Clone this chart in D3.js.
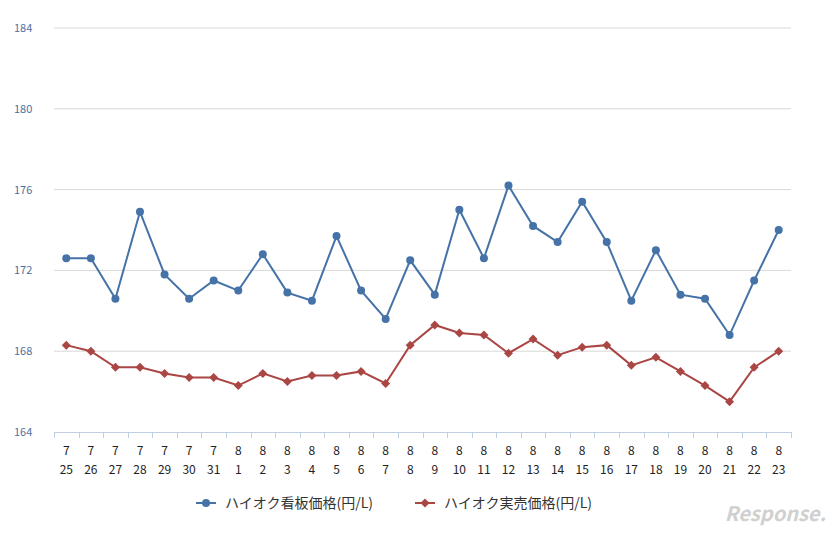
<!DOCTYPE html>
<html><head><meta charset="utf-8">
<script src="https://cdn.jsdelivr.net/npm/d3@7"></script>
<style>body{margin:0;background:#fff}svg{font-family:"Noto Sans CJK JP","Noto Sans",sans-serif}</style>
</head><body><svg width="837" height="534"></svg>
<script>
// data
const months = [7,7,7,7,7,7,7,8,8,8,8,8,8,8,8,8,8,8,8,8,8,8,8,8,8,8,8,8,8,8]
const days = [25,26,27,28,29,30,31,1,2,3,4,5,6,7,8,9,10,11,12,13,14,15,16,17,18,19,20,21,22,23]
const signPrice = [172.6,172.6,170.6,174.9,171.8,170.6,171.5,171.0,172.8,170.9,170.5,173.7,171.0,169.6,172.5,170.8,175.0,172.6,176.2,174.2,173.4,175.4,173.4,170.5,173.0,170.8,170.6,168.8,171.5,174.0]
const realPrice = [168.3,168.0,167.2,167.2,166.9,166.7,166.7,166.3,166.9,166.5,166.8,166.8,167.0,166.4,168.3,169.3,168.9,168.8,167.9,168.6,167.8,168.2,168.3,167.3,167.7,167.0,166.3,165.5,167.2,168.0]
const yTicks = [164,168,172,176,180,184]
const seriesNames = ["ハイオク看板価格(円/L)","ハイオク実売価格(円/L)"]
const colors = ["#4572a7","#aa4643"]

const svg = d3.select("svg")
const idx = d3.range(days.length)

const x = d3.scaleBand().domain(idx).range([54, 791])
const y = d3.scaleLinear().domain([164, 184]).range([432, 28])

// grid
svg.append("g").selectAll("line").data(yTicks.slice(1)).enter().append("line")
	.attr("x1", 54).attr("x2", 791)
	.attr("y1", d => y(d)).attr("y2", d => y(d))
	.attr("stroke", "#d8d8d8")

svg.append("g").selectAll("text").data(yTicks).enter().append("text")
	.attr("x", 14).attr("y", d => y(d) + 4)
	.attr("fill", "#4d6fa0").style("font-size", "11px")
	.text(d => d)

// x axis
svg.append("line").attr("x1", 54).attr("x2", 791).attr("y1", 432.5).attr("y2", 432.5).attr("stroke", "#c0d0e0")
svg.append("g").selectAll("line").data(d3.range(days.length + 1)).enter().append("line")
	.attr("x1", i => Math.round(54 + x.step() * i) + 0.5).attr("x2", i => Math.round(54 + x.step() * i) + 0.5)
	.attr("y1", 432).attr("y2", 438).attr("stroke", "#c0d0e0")

const lab = svg.append("g").selectAll("g").data(idx).enter().append("g")
	.attr("transform", i => `translate(${x(i) + x.bandwidth() / 2},0)`)
lab.append("text").attr("y", 455).attr("text-anchor", "middle").style("font-size", "12px").attr("fill", "#222").text(i => months[i])
lab.append("text").attr("y", 474).attr("text-anchor", "middle").style("font-size", "12px").attr("fill", "#222").text(i => days[i])

// lines
const series = [signPrice, realPrice]
series.forEach((vals, s) => {
	const line = d3.line().x((d, i) => x(i) + x.bandwidth() / 2).y(d => y(d))
	svg.append("path").datum(vals).attr("d", line).attr("fill", "none")
		.attr("stroke", colors[s]).attr("stroke-width", 2)
	const pts = svg.append("g").selectAll("g").data(vals).enter().append("g")
		.attr("transform", (d, i) => `translate(${x(i) + x.bandwidth() / 2},${y(d)})`)
	if (s == 0) pts.append("circle").attr("r", 4).attr("fill", colors[s])
	else pts.append("path").attr("d", "M0,-4.5L4.5,0L0,4.5L-4.5,0Z").attr("fill", colors[s])
})

// legend
const leg = [[206, 0], [425, 1]]
leg.forEach(([lx, s]) => {
	const g = svg.append("g").attr("transform", `translate(${lx},503)`)
	g.append("line").attr("x1", -10).attr("x2", 10).attr("stroke", colors[s]).attr("stroke-width", 2)
	if (s == 0) g.append("circle").attr("r", 4).attr("fill", colors[s])
	else g.append("path").attr("d", "M0,-4.5L4.5,0L0,4.5L-4.5,0Z").attr("fill", colors[s])
	g.append("text").attr("x", 19).attr("y", 5).style("font-size", "14px").attr("fill", "#333").text(seriesNames[s])
})

// watermark
svg.append("text").attr("x", 826).attr("y", 521).attr("text-anchor", "end")
	.style("font-size", "20px").style("font-style", "italic").style("font-weight", "bold")
	.attr("fill", "#d0d0d0").text("Response.")
</script></body></html>
